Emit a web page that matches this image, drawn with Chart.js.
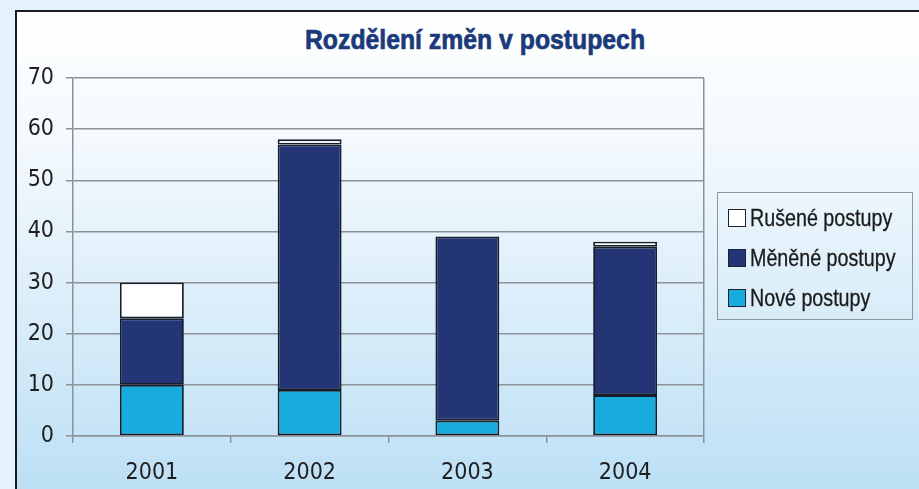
<!DOCTYPE html>
<html lang="cs">
<head>
<meta charset="utf-8">
<title>Rozdělení změn v postupech</title>
<script src="https://cdn.jsdelivr.net/npm/chart.js@4/dist/chart.umd.min.js"></script>
<style>
  html, body { margin: 0; padding: 0; }
  body {
    width: 919px; height: 489px; overflow: hidden; position: relative;
    background: #e4f2fb;
    font-family: 'Liberation Sans', Arial, sans-serif;
  }
  #frame {
    position: absolute; left: 15px; top: 10px; right: -10px; bottom: -10px;
    border-top: 2px solid #1b1b1b; border-left: 2px solid #1b1b1b;
    background: linear-gradient(to bottom, #ffffff 0%, #f1f8fd 30%, #d9edf9 62%, #bbdff5 100%);
  }
  #chart { position: absolute; left: 0; top: 0; }
  /* narrow look: Liberation Sans squeezed horizontally */
  #title {
    position: absolute; left: 175px; width: 600px; top: 22px;
    text-align: center; font-weight: bold; font-size: 28px; line-height: 36px;
    color: #1b3a7a; white-space: nowrap;
    -webkit-text-stroke: 0.7px #1b3a7a;
    transform: scaleX(0.885); transform-origin: 50% 50%;
  }
  #legend {
    position: absolute; left: 717px; top: 192px; width: 196px; height: 128px;
    border: 1.5px solid #8e959b; box-sizing: border-box;
    list-style: none; margin: 0; padding: 5px 0 0 10px;
  }
  #legend li {
    display: flex; align-items: center; height: 40px; white-space: nowrap;
  }
  #legend .sw {
    width: 18px; height: 18px; margin-right: 4px; box-sizing: border-box;
    border: 1.5px solid #1c2433; flex: none;
  }
  #legend .tx {
    display: inline-block; font-size: 24px; color: #1a1a1a;
    -webkit-text-stroke: 0.3px #1a1a1a;
    transform: scaleX(0.82); transform-origin: 0 50%;
  }
</style>
</head>
<body>
<div id="frame"></div>
<div id="title">Rozdělení změn v postupech</div>
<canvas id="chart" width="919" height="489"></canvas>
<ul id="legend"></ul>
<script>
const years = ['2001', '2002', '2003', '2004'];
const nove = [10, 9, 3, 8];
const menene = [13, 48, 36, 29];
const rusene = [7, 1, 0, 1];
const yTicks = [0, 10, 20, 30, 40, 50, 60, 70];

const GRID = '#8c9298';
const EDGE = '#171d2b';
const FONT = "'DejaVu Sans Condensed', 'Liberation Sans', sans-serif";

const chart = new Chart(document.getElementById('chart'), {
  type: 'bar',
  data: {
    labels: years,
    datasets: [
      { label: 'Nové postupy', data: nove, backgroundColor: '#17acdc' },
      { label: 'Měněné postupy', data: menene, backgroundColor: '#233575' },
      { label: 'Rušené postupy', data: rusene, backgroundColor: '#ffffff' }
    ].map(d => Object.assign(d, {
      borderColor: EDGE,
      borderWidth: 1.8,
      borderSkipped: false,
      categoryPercentage: 1,
      barPercentage: 0.405
    }))
  },
  options: {
    responsive: false,
    animation: false,
    layout: { padding: { top: 78, left: 0, right: 215, bottom: 0 } },
    plugins: {
      legend: { display: false },
      title: { display: false },
      tooltip: { enabled: false }
    },
    scales: {
      x: {
        stacked: true,
        offset: true,
        afterFit: s => { s.height = 53; },
        grid: {
          offset: true,
          drawOnChartArea: true,
          tickLength: 7,
          lineWidth: 1.5,
          // only the closing right edge crosses the plot; the rest are ticks
          color: c => c.type === 'tick' ? 'rgba(0,0,0,0)' : GRID,
          tickColor: GRID
        },
        border: { display: true, color: GRID, width: 1.5 },
        ticks: { color: '#1e1e1e', padding: 16, font: { family: FONT, size: 23 } }
      },
      y: {
        stacked: true,
        min: 0,
        max: 70,
        afterFit: s => { s.width = 73; },
        afterBuildTicks: s => { s.ticks = yTicks.map(v => ({ value: v })); },
        grid: { color: GRID, lineWidth: 1.5, tickLength: 7 },
        border: { display: true, color: GRID, width: 1.5 },
        ticks: { color: '#1e1e1e', padding: 12, font: { family: FONT, size: 23 } }
      }
    }
  }
});

// legend list, top row first (reverse of stacking order)
const ul = document.getElementById('legend');
chart.data.datasets.slice().reverse().forEach(ds => {
  const li = document.createElement('li');
  const sw = document.createElement('span');
  sw.className = 'sw';
  sw.style.background = ds.backgroundColor;
  const tx = document.createElement('span');
  tx.className = 'tx';
  tx.textContent = ds.label;
  li.appendChild(sw);
  li.appendChild(tx);
  ul.appendChild(li);
});
</script>
</body>
</html>
